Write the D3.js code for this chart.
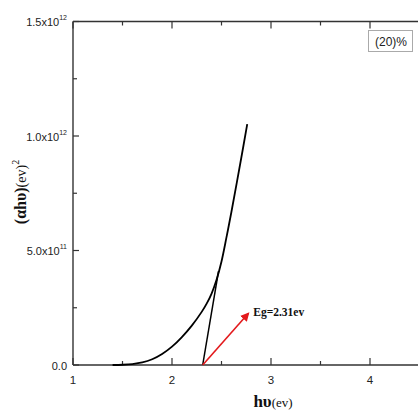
<!DOCTYPE html>
<html>
<head>
<meta charset="utf-8">
<script src="https://cdn.jsdelivr.net/npm/d3@7"></script>
<style>
html,body{margin:0;padding:0;background:#fff;}
svg{display:block;}
</style>
</head>
<body>
<svg id="chart" width="418" height="416"></svg>
<script>
// ---- data ----
const curveX = [1.40,1.50,1.60,1.70,1.80,1.90,2.00,2.10,2.20,2.30,2.35,2.40,2.45,2.50,2.55,2.60,2.70,2.76];
const curveY = [0,0.001e12,0.004e12,0.011e12,0.025e12,0.048e12,0.080e12,0.122e12,0.172e12,0.232e12,0.268e12,0.312e12,0.372e12,0.452e12,0.557e12,0.668e12,0.905e12,1.052e12];
const tangentX = [2.31, 2.47];
const tangentY = [0, 0.41e12];
const arrowX = [2.31, 2.77];
const arrowY = [0, 0.225e12];
const xTickValues = [1,2,3,4];
const xTickLabels = ["1","2","3","4"];
const xMinorTicks = [1.5,2.5,3.5];
const yTickValues = [0,0.5e12,1.0e12,1.5e12];
const yTickMantissa = ["0.0","5.0x10","1.0x10","1.5x10"];
const yTickExp = ["","11","12","12"];
const yMinorTicks = [0.25e12,0.75e12,1.25e12];
const bandGapLabel = "Eg=2.31ev";
const legendLabel = "(20)%";

// ---- layout ----
const svg = d3.select("#chart");
const L = 73, T = 21.5, B = 365;
const x = d3.scaleLinear().domain([1,4.5]).range([L, L + 3.5*99]);
const y = d3.scaleLinear().domain([0,1.5e12]).range([B, T]);
const axisColor = "#333";

const g = svg.append("g");
g.append("line").attr("x1",x(1)).attr("x2",x(4.5)).attr("y1",y(0)).attr("y2",y(0)).attr("stroke",axisColor).attr("stroke-width",1.4);
g.append("line").attr("x1",x(1)).attr("x2",x(4.5)).attr("y1",y(1.5e12)).attr("y2",y(1.5e12)).attr("stroke",axisColor).attr("stroke-width",1.4);
g.append("line").attr("x1",x(1)).attr("x2",x(1)).attr("y1",y(0)).attr("y2",y(1.5e12)).attr("stroke",axisColor).attr("stroke-width",1.4);

const xAll = xTickValues.map(v=>({v,len:7})).concat(xMinorTicks.map(v=>({v,len:4})));
xAll.forEach(t=>{
  g.append("line").attr("x1",x(t.v)).attr("x2",x(t.v)).attr("y1",y(0)).attr("y2",y(0)-t.len).attr("stroke",axisColor).attr("stroke-width",1.2);
  g.append("line").attr("x1",x(t.v)).attr("x2",x(t.v)).attr("y1",y(1.5e12)).attr("y2",y(1.5e12)+t.len).attr("stroke",axisColor).attr("stroke-width",1.2);
});
const yAll = yTickValues.map(v=>({v,len:6})).concat(yMinorTicks.map(v=>({v,len:4})));
yAll.forEach(t=>{
  g.append("line").attr("x1",x(1)).attr("x2",x(1)+t.len).attr("y1",y(t.v)).attr("y2",y(t.v)).attr("stroke",axisColor).attr("stroke-width",1.2);
});

xTickValues.forEach((v,i)=>{
  g.append("text").attr("x",x(v)).attr("y",y(0)+19).attr("text-anchor","middle")
   .attr("font-family","Liberation Sans, Arial, sans-serif").attr("font-size",11.5).attr("fill","#222")
   .text(xTickLabels[i]);
});
yTickValues.forEach((v,i)=>{
  const t = g.append("text").attr("x",x(1)-6).attr("y",y(v)+4.5).attr("text-anchor","end")
   .attr("font-family","Liberation Sans, Arial, sans-serif").attr("font-size",11).attr("fill","#222");
  t.append("tspan").text(yTickMantissa[i]);
  if (yTickExp[i]) t.append("tspan").attr("dy",-6).attr("font-size",7).text(yTickExp[i]);
});

const line = d3.line().x(d=>x(d[0])).y(d=>y(d[1])).curve(d3.curveCatmullRom.alpha(0.5));
svg.append("path").datum(curveX.map((v,i)=>[v,curveY[i]]))
  .attr("d",line).attr("fill","none").attr("stroke","#000").attr("stroke-width",1.8);
svg.append("path").datum(tangentX.map((v,i)=>[v,tangentY[i]]))
  .attr("d",d3.line().x(d=>x(d[0])).y(d=>y(d[1]))).attr("fill","none").attr("stroke","#000").attr("stroke-width",1.5);

const defs = svg.append("defs");
defs.append("marker").attr("id","ah").attr("viewBox","0 0 10 10").attr("refX",8).attr("refY",5)
  .attr("markerWidth",9).attr("markerHeight",9).attr("markerUnits","userSpaceOnUse").attr("orient","auto")
  .append("path").attr("d","M0,0 L10,5 L0,10 Z").attr("fill","#e3191c");
svg.append("line").attr("x1",x(arrowX[0])).attr("y1",y(arrowY[0])).attr("x2",x(arrowX[1])).attr("y2",y(arrowY[1]))
  .attr("stroke","#e3191c").attr("stroke-width",1.6).attr("marker-end","url(#ah)");
svg.append("text").attr("x",x(arrowX[1])+5).attr("y",y(arrowY[1])+3)
  .attr("font-family","Liberation Serif, Times New Roman, serif").attr("font-weight","bold").attr("font-size",11.5)
  .attr("fill","#111").text(bandGapLabel);

svg.append("rect").attr("x",368.5).attr("y",30.5).attr("width",44).attr("height",21)
  .attr("fill","#fff").attr("stroke","#aaa").attr("stroke-width",1);
svg.append("text").attr("x",391).attr("y",46).attr("text-anchor","middle")
  .attr("font-family","Liberation Sans, Arial, sans-serif").attr("font-size",12).attr("fill","#222").text(legendLabel);

const xt = svg.append("text").attr("x",273).attr("y",407).attr("text-anchor","middle")
  .attr("font-family","Liberation Serif, Times New Roman, serif").attr("fill","#111");
xt.append("tspan").attr("font-weight","bold").attr("font-size",17).text("hυ");
xt.append("tspan").attr("font-size",13).text("(ev)");

const yt = svg.append("text").attr("transform","translate(26,192) rotate(-90)").attr("text-anchor","middle")
  .attr("font-family","Liberation Serif, Times New Roman, serif").attr("fill","#111");
yt.append("tspan").attr("font-weight","bold").attr("font-size",16).text("(αhυ)");
yt.append("tspan").attr("font-size",14).text("(ev)");
yt.append("tspan").attr("font-size",10).attr("dy",-7).text("2");
</script>
</body>
</html>
